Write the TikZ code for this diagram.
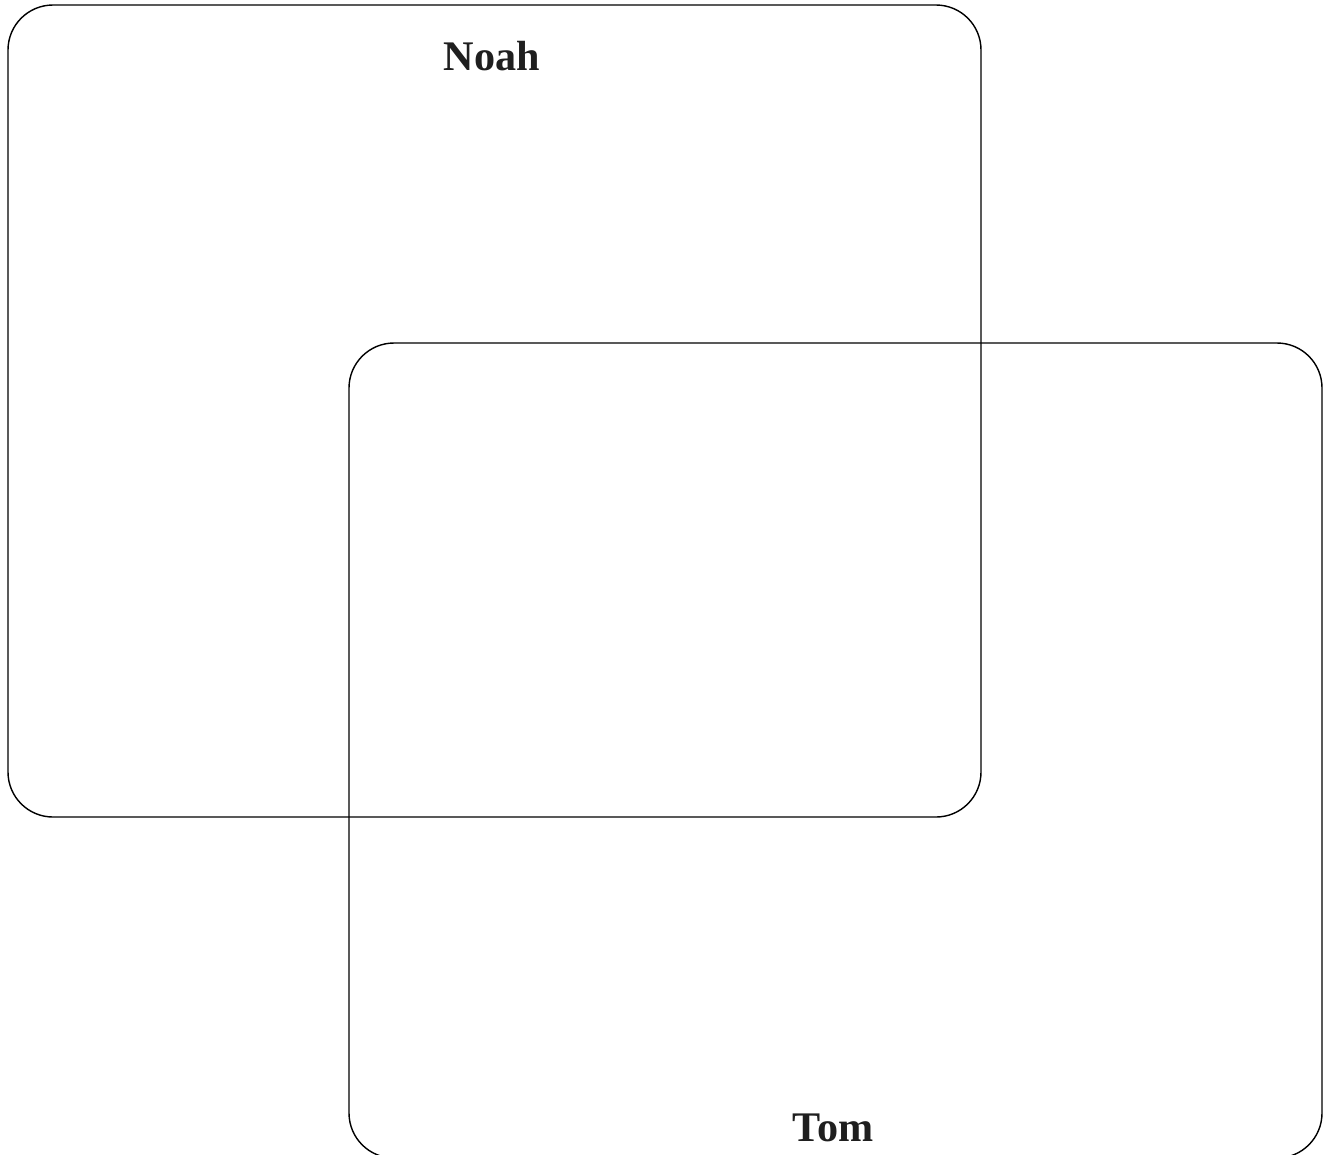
\documentclass[tikz,border=0pt]{standalone}
\usepackage{fontspec}
\setmainfont{Liberation Serif}
\usepackage{tikz}

\begin{document}
\begin{tikzpicture}[x=0.02cm, y=-0.02cm, line cap=round, line join=round]
  % Page frame, same proportions as the reference
  \useasboundingbox (0,0) rectangle (1325,1154);

  % Corners of the two overlapping sets
  \coordinate (NA) at (8,5);
  \coordinate (NB) at (981,817);
  \coordinate (TA) at (349,343);
  \coordinate (TB) at (1322,1158);

  % Noah's set (upper left) and Tom's set (lower right)
  \draw[line width=0.8pt, rounded corners=0.9cm] (NA) rectangle (NB);
  \draw[line width=0.8pt, rounded corners=0.9cm] (TA) rectangle (TB);

  % Set labels
  \node[font=\bfseries\fontsize{24}{28}\selectfont, text=black!88, anchor=base] (noah) at (492,70) {Noah};
  \node[font=\bfseries\fontsize{24}{28}\selectfont, text=black!88, anchor=base] (tom) at (833,1141) {Tom};
\end{tikzpicture}
\end{document}
